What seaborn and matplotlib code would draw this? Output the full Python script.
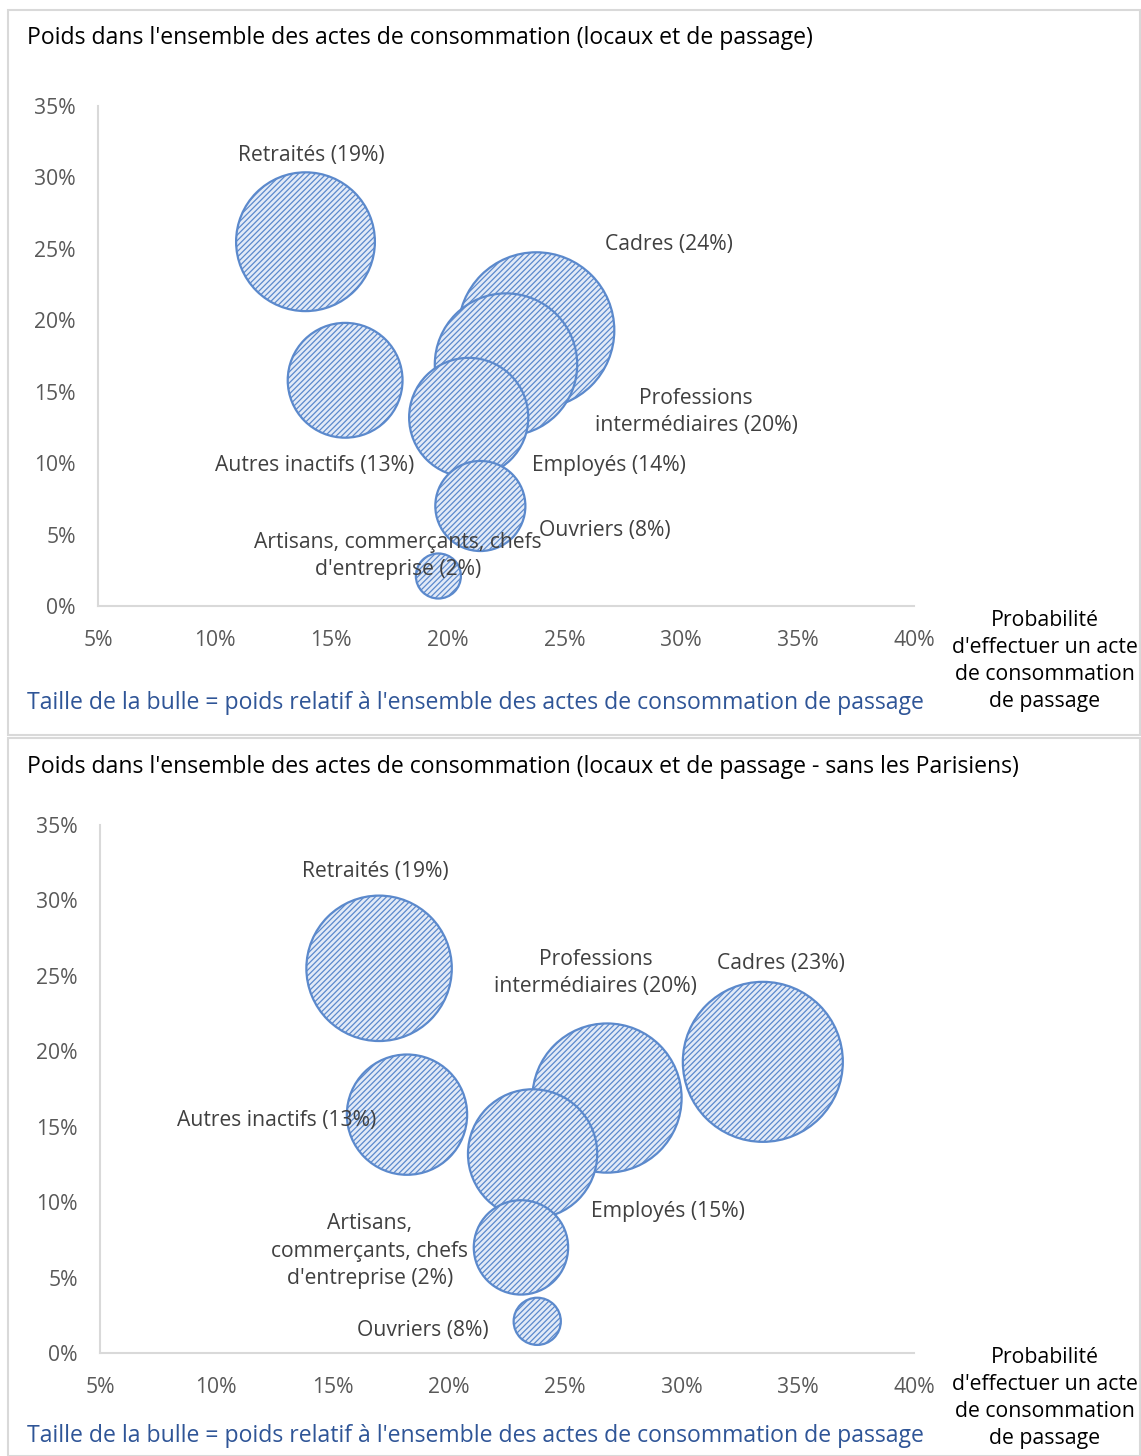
import pandas as pd
import numpy as np
import seaborn as sns
import matplotlib.pyplot as plt
from matplotlib.patches import Rectangle

# donnees
categories = ["Retraités", "Autres inactifs", "Cadres", "Professions intermédiaires",
              "Employés", "Ouvriers", "Artisans, commerçants, chefs d'entreprise"]
poids = [25.5, 15.8, 19.3, 16.9, 13.2, 7.0, 2.1]
proba_tous = [13.9, 15.6, 23.8, 22.5, 20.9, 21.4, 19.6]
taille_tous = [19, 13, 24, 20, 14, 8, 2]
proba_hors_paris = [17.0, 18.2, 33.5, 26.8, 23.6, 23.1, 23.8]
taille_hors_paris = [19, 13, 23, 20, 15, 8, 2]

labels_tous = ["Retraités (19%)", "Autres inactifs (13%)", "Cadres (24%)",
               "Professions\nintermédiaires (20%)", "Employés (14%)", "Ouvriers (8%)",
               "Artisans, commerçants, chefs\nd'entreprise (2%)"]
labels_hors_paris = ["Retraités (19%)", "Autres inactifs (13%)", "Cadres (23%)",
                     "Professions\nintermédiaires (20%)", "Employés (15%)", "Ouvriers (8%)",
                     "Artisans,\ncommerçants, chefs\nd'entreprise (2%)"]

x_ticks = [5, 10, 15, 20, 25, 30, 35, 40]
y_ticks = [0, 5, 10, 15, 20, 25, 30, 35]

sns.set_style("white")
plt.rcParams['font.family'] = ['Open Sans', 'DejaVu Sans']
plt.rcParams['hatch.color'] = '#5b89cc'
plt.rcParams['hatch.linewidth'] = 0.9

fill = '#e2eaf7'
edge = '#5b89cc'
grey = '#595959'
fs = 15.2

fig = plt.figure(figsize=(11.41, 14.56), dpi=100)

# cadres des deux panneaux
for y0, h in [(1 - 735 / 1456, 725 / 1456), (0.0, 1 - 738 / 1456)]:
    fig.patches.append(Rectangle((8 / 1141, y0), 1132 / 1141, h, transform=fig.transFigure,
                                 fill=False, edgecolor='#d9d9d9', linewidth=1.5))

panels = [
    dict(rect=[98 / 1141, 1 - 606 / 1456, 816 / 1141, 500 / 1456], proba=proba_tous,
         taille=taille_tous, k=525.6, labels=labels_tous,
         pos=[(14.14, 31.5), (14.3, 9.87), (29.5, 25.3), (30.65, 13.6), (26.9, 9.87),
              (26.75, 5.3), (17.87, 3.5)],
         title="Poids dans l'ensemble des actes de consommation (locaux et de passage)",
         ty=38, ny=703, py=661),
    dict(rect=[100 / 1141, 1 - 1353 / 1456, 814 / 1141, 528 / 1456], proba=proba_hors_paris,
         taille=taille_hors_paris, k=577.0, labels=labels_hors_paris,
         pos=[(16.82, 31.9), (12.6, 15.4), (34.3, 25.8), (26.3, 25.2), (29.4, 9.4),
              (18.9, 1.46), (16.6, 6.76)],
         title="Poids dans l'ensemble des actes de consommation (locaux et de passage - sans les Parisiens)",
         ty=767, ny=1436, py=1398),
]

for p in panels:
    ax = fig.add_axes(p['rect'])
    df = pd.DataFrame({'categorie': categories, 'proba': p['proba'],
                       'poids': poids, 'taille': p['taille']})
    sns.scatterplot(data=df, x='proba', y='poids', size='taille',
                    sizes=(p['k'] * min(p['taille']), p['k'] * max(p['taille'])),
                    legend=False, color=fill, edgecolor=edge, linewidth=1.6,
                    hatch='//////', alpha=1, ax=ax, clip_on=False)
    for lab, (lx, ly) in zip(p['labels'], p['pos']):
        ax.text(lx, ly, lab, ha='center', va='center', fontsize=fs, color='#404040',
                linespacing=1.4)
    ax.set_xlim(5, 40)
    ax.set_ylim(0, 35)
    ax.set_xticks(x_ticks)
    ax.set_xticklabels([f"{t}%" for t in x_ticks])
    ax.set_yticks(y_ticks)
    ax.set_yticklabels([f"{t}%" for t in y_ticks])
    ax.tick_params(axis='both', length=0, labelsize=fs, colors=grey)
    ax.tick_params(axis='x', pad=17)
    ax.tick_params(axis='y', pad=16)
    ax.set_xlabel('')
    ax.set_ylabel('')
    ax.spines['top'].set_visible(False)
    ax.spines['right'].set_visible(False)
    for s in ['left', 'bottom']:
        ax.spines[s].set_color('#d9d9d9')
        ax.spines[s].set_linewidth(1.5)
    ax.set_facecolor('none')

    fig.text(27 / 1141, 1 - p['ty'] / 1456, p['title'], ha='left', va='center',
             fontsize=16.6, color='black')
    fig.text(27 / 1141, 1 - p['ny'] / 1456,
             "Taille de la bulle = poids relatif à l'ensemble des actes de consommation de passage",
             ha='left', va='center', fontsize=16.6, color='#2f5597')
    fig.text(1045 / 1141, 1 - p['py'] / 1456,
             "Probabilité\nd'effectuer un acte\nde consommation\nde passage",
             ha='center', va='center', fontsize=15.3, color='black', linespacing=1.39)

plt.savefig('out.png', dpi=100)
